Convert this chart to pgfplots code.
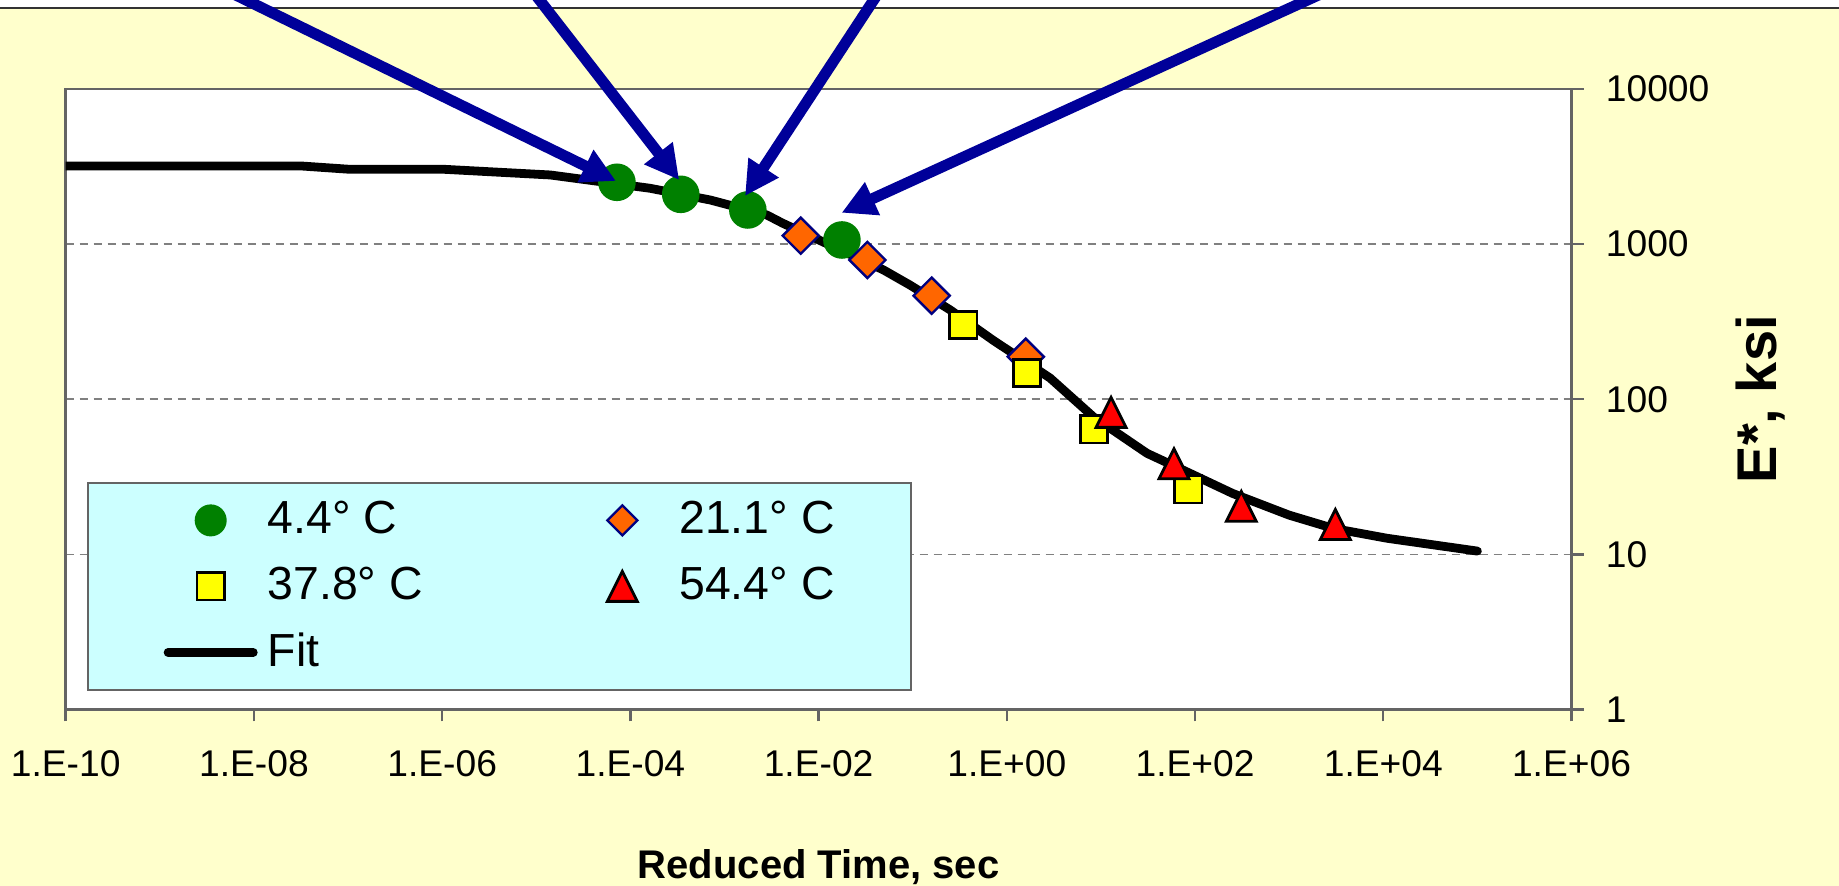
\documentclass[border=0pt]{standalone}
\usepackage{fontspec}
\setmainfont{Liberation Sans}
\usepackage{pgfplots}
\pgfplotsset{compat=1.18}
\usetikzlibrary{arrows.meta}
\definecolor{bgyellow}{RGB}{255,255,204}
\definecolor{legcyan}{RGB}{204,255,255}
\definecolor{mygreen}{RGB}{0,128,0}
\definecolor{myorange}{RGB}{255,102,0}
\definecolor{mynavy}{RGB}{0,0,128}
\definecolor{myyellow}{RGB}{255,255,0}
\definecolor{myred}{RGB}{255,0,0}
\definecolor{arrowblue}{RGB}{0,0,153}
\definecolor{gridgray}{RGB}{128,128,128}
\definecolor{framegray}{RGB}{100,100,100}
\pgfplotsset{
  markimg/.style={legend image code/.code={\path[draw=none,fill=none] (0pt,-5pt) rectangle (23.5pt,5pt); \draw[##1] plot[only marks] coordinates {(11.75pt,0pt)};}},
  lineimg/.style={legend image code/.code={\path[draw=none,fill=none] (0pt,-5pt) rectangle (23.5pt,5pt); \draw[##1] (1.1pt,0pt) -- (22.4pt,0pt);}},
}
\begin{document}
\begin{tikzpicture}
\fill[bgyellow] (0,0) rectangle (459.75pt,221.5pt);
\fill[white] (0,219.6pt) rectangle (459.75pt,221.5pt);
\draw[black!80, line width=0.5pt] (0,219.6pt) -- (459.75pt,219.6pt);
\begin{axis}[
  at={(16.425pt,44.125pt)}, anchor=south west,
  scale only axis, width=376.45pt, height=155.125pt,
  xmode=log, ymode=log,
  xmin=1e-10, xmax=1e6, ymin=1, ymax=10000,
  axis background/.style={fill=white},
  axis line style={draw=framegray, line width=0.6pt},
  xtick={1e-10,1e-8,1e-6,1e-4,1e-2,1,1e2,1e4,1e6},
  xticklabels={1.E-10,1.E-08,1.E-06,1.E-04,1.E-02,1.E+00,1.E+02,1.E+04,1.E+06},
  ytick={1,10,100,1000,10000},
  yticklabels={1,10,100,1000,10000},
  xminorticks=false, yminorticks=false,
  tick align=outside,
  xtick pos=lower, ytick pos=upper,
  yticklabel pos=upper,
  major tick length=3pt,
  tick style={draw=framegray, line width=0.6pt},
  ymajorgrids,
  major grid style={draw=gridgray, dash pattern=on 2pt off 1.5pt, line width=0.4pt},
  xticklabel style={font=\fontsize{9.3}{11}\selectfont, inner sep=0pt, anchor=north, yshift=-7.1pt},
  yticklabel style={font=\fontsize{9.3}{11}\selectfont, inner sep=0pt, anchor=west, xshift=5.4pt},
  every axis x label/.style={at={(axis description cs:0.5,-0.272)}, anchor=base, font=\bfseries\fontsize{10}{12}\selectfont},
  every axis y label/.style={at={(axis description cs:1.1255,0.5)}, anchor=center, rotate=90, font=\bfseries\fontsize{14}{16}\selectfont},
  xlabel={Reduced Time, sec},
  ylabel={E*, ksi},
  legend columns=2,
  legend cell align=left,
  legend style={
    at={(axis description cs:0.01395,0.36696)}, anchor=north west,
    draw=framegray, line width=0.5pt, fill=legcyan,
    font=\fontsize{11.6}{13}\selectfont,
    inner xsep=19pt, inner ysep=4.4pt,
    column sep=2.5pt, row sep=6.5pt,
    nodes={inner sep=0pt},
    /tikz/every even column/.append style={column sep=38.1pt},
  },
]
% Fit curve
\addplot[black, line width=2.2pt, line join=round, line cap=round, forget plot] table {
x y
1e-10 3190
3.16e-8 3190
1e-7 3040
1e-6 3040
1.41e-5 2790
1.62e-4 2290
7.08e-4 1924
2.82e-3 1540
4.17e-3 1362
0.049 681
0.0933 545
0.251 376
0.708 241
2.88 137
8.32 77
30.9 44.8
81.3 34.1
251 24.7
1000 17.9
2951 14.7
10965 12.7
1e5 10.5
};
% 4.4 C
\addplot[only marks, forget plot, mark=*, mark size=4.5pt, mark options={draw=mygreen, fill=mygreen}] table {
x y
7.2e-5 2503
3.43e-4 2094
1.77e-3 1660
1.77e-2 1063
};
% 21.1 C
\addplot[only marks, forget plot, mark=square*, mark size=3.2pt, mark options={rotate=45, draw=mynavy, fill=myorange, line width=0.6pt}] table {
x y
6.46e-3 1133
3.3e-2 790
0.159 465
1.59 188
};
% 37.8 C
\addplot[only marks, forget plot, mark=square*, mark size=3.4pt, mark options={draw=black, fill=myyellow, line width=0.7pt}] table {
x y
0.345 301
1.65 147
8.45 64
84.9 26.2
};
% 54.4 C
\addplot[only marks, forget plot, mark=triangle*, mark size=4.33pt, mark options={yshift=-1.25pt, yscale=1.155, draw=black, fill=myred, line width=0.7pt}] table {
x y
12.8 82.3
59.8 38.4
310 20.4
3097 15.6
};
\addlegendimage{markimg, only marks, mark=*, mark size=3.75pt, mark options={draw=mygreen, fill=mygreen}}
\addlegendentry{4.4° C}
\addlegendimage{markimg, only marks, mark=square*, mark size=2.65pt, mark options={rotate=45, draw=mynavy, fill=myorange, line width=0.6pt}}
\addlegendentry{21.1° C}
\addlegendimage{markimg, only marks, mark=square*, mark size=3.4pt, mark options={draw=black, fill=myyellow, line width=0.7pt}}
\addlegendentry{37.8° C}
\addlegendimage{markimg, only marks, mark=triangle*, mark size=4.33pt, mark options={yshift=-1.25pt, yscale=1.155, draw=black, fill=myred, line width=0.7pt}}
\addlegendentry{54.4° C}
\addlegendimage{lineimg, black, line width=2.2pt, line cap=round}
\addlegendentry{Fit}
\end{axis}
\begin{scope}
\clip (0,0) rectangle (459.75pt,221.5pt);
\draw[arrowblue, line width=2.75pt, -{Triangle[length=8.5pt,width=8.5pt]}] (51.25pt,226.5pt) -- (154pt,176.25pt);
\draw[arrowblue, line width=2.75pt, -{Triangle[length=8.5pt,width=8.5pt]}] (131pt,226.5pt) -- (169.8pt,176.5pt);
\draw[arrowblue, line width=2.75pt, -{Triangle[length=8.5pt,width=8.5pt]}] (221.7pt,226.5pt) -- (186.25pt,172.5pt);
\draw[arrowblue, line width=2.75pt, -{Triangle[length=8.5pt,width=8.5pt]}] (337.85pt,226.5pt) -- (210.4pt,168.3pt);
\end{scope}
\pgfresetboundingbox
\path[use as bounding box] (0,0) rectangle (459.75pt,221.5pt);
\end{tikzpicture}
\end{document}
